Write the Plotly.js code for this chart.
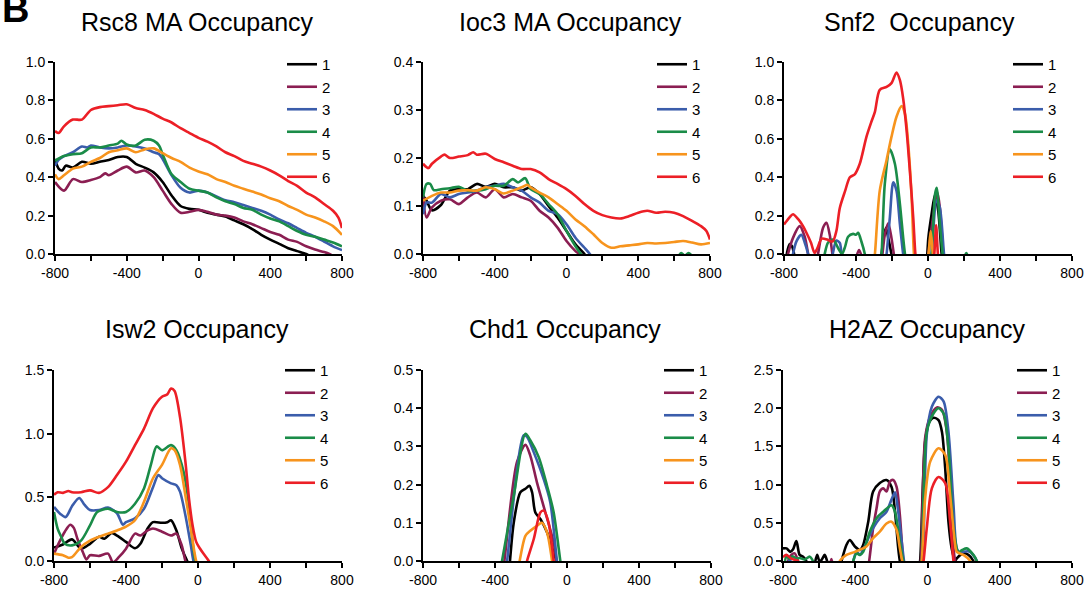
<!DOCTYPE html>
<html><head><meta charset="utf-8">
<script src="https://cdn.plot.ly/plotly-3.0.1.min.js"></script>
<style>html,body{margin:0;padding:0;background:#fff}#chart{width:1090px;height:590px}</style>
</head><body><div id="chart"></div>
<script>
const seriesNames = ['1','2','3','4','5','6'];
const seriesColors = ['#000000','#8b1e52','#3b5dab','#1a8c48','#f7941d','#ec1f26'];
const panelTitles = ['Rsc8 MA Occupancy','Ioc3 MA Occupancy','Snf2\u00a0 Occupancy','Isw2 Occupancy','Chd1 Occupancy','H2AZ Occupancy'];
const xTickVals = [-800,-600,-400,-200,0,200,400,600,800];
const xTickText = ['-800','','-400','','0','','400','','800'];

// ---- Rsc8 MA ----
const rsc8_x1 = [-800,-780,-760,-740,-700,-650,-600,-550,-500,-450,-400,-350,-300,-250,-200,-150,-100,-50,0,50,100,150,200,250,300,350,400,450,500,550,600,620];
const rsc8_y1 = [0.495,0.445,0.435,0.46,0.45,0.48,0.47,0.48,0.49,0.505,0.505,0.47,0.45,0.425,0.375,0.305,0.25,0.235,0.23,0.215,0.205,0.195,0.175,0.155,0.13,0.10,0.075,0.053,0.03,0.015,0.0,-0.01];
const rsc8_x2 = [-800,-750,-700,-650,-600,-550,-520,-500,-450,-400,-350,-300,-250,-200,-150,-100,-50,0,50,100,150,200,250,300,350,400,450,500,550,600,650,700,730,750];
const rsc8_y2 = [0.375,0.33,0.39,0.375,0.385,0.40,0.42,0.41,0.435,0.455,0.425,0.435,0.40,0.33,0.26,0.215,0.22,0.23,0.22,0.205,0.20,0.19,0.17,0.155,0.135,0.115,0.10,0.075,0.063,0.04,0.023,0.01,0.0,-0.01];
const rsc8_x3 = [-800,-780,-750,-700,-650,-620,-600,-550,-500,-450,-400,-350,-300,-250,-220,-200,-150,-100,-50,0,50,100,150,200,250,300,350,400,450,500,550,600,650,700,750,800];
const rsc8_y3 = [0.46,0.49,0.51,0.53,0.56,0.555,0.565,0.555,0.55,0.555,0.565,0.56,0.55,0.53,0.52,0.495,0.41,0.345,0.32,0.33,0.32,0.30,0.28,0.27,0.255,0.24,0.225,0.205,0.18,0.16,0.135,0.11,0.09,0.065,0.04,0.02];
const rsc8_x4 = [-800,-750,-700,-650,-600,-550,-500,-450,-430,-400,-350,-300,-250,-220,-200,-150,-100,-50,0,50,100,150,200,250,300,350,400,450,500,550,600,650,700,750,800];
const rsc8_y4 = [0.485,0.51,0.52,0.525,0.555,0.555,0.565,0.575,0.59,0.57,0.565,0.595,0.59,0.565,0.52,0.415,0.375,0.34,0.33,0.32,0.295,0.275,0.26,0.24,0.23,0.205,0.185,0.17,0.145,0.12,0.10,0.09,0.075,0.06,0.04];
const rsc8_x5 = [-800,-780,-750,-700,-650,-600,-550,-500,-450,-400,-350,-300,-250,-200,-150,-100,-50,0,50,100,150,200,250,300,350,400,450,500,550,600,650,700,750,800];
const rsc8_y5 = [0.415,0.39,0.41,0.445,0.455,0.48,0.50,0.53,0.54,0.55,0.53,0.545,0.55,0.525,0.50,0.48,0.45,0.43,0.415,0.39,0.375,0.355,0.34,0.325,0.31,0.29,0.275,0.25,0.23,0.205,0.19,0.17,0.145,0.10];
const rsc8_x6 = [-800,-780,-750,-700,-650,-600,-550,-500,-450,-400,-350,-300,-250,-200,-150,-100,-50,0,50,100,150,200,250,300,350,400,450,500,550,600,650,700,750,780,800];
const rsc8_y6 = [0.64,0.63,0.665,0.70,0.70,0.75,0.765,0.77,0.775,0.78,0.76,0.75,0.73,0.705,0.685,0.655,0.63,0.605,0.585,0.56,0.53,0.51,0.485,0.47,0.455,0.435,0.41,0.38,0.355,0.32,0.295,0.26,0.225,0.19,0.135];

// ---- Ioc3 MA ----
const ioc3_x1 = [-800,-780,-750,-700,-650,-600,-550,-500,-450,-400,-350,-300,-250,-200,-150,-100,-50,0,50,100,120];
const ioc3_y1 = [0.121,0.111,0.091,0.102,0.132,0.135,0.135,0.146,0.14,0.146,0.139,0.139,0.132,0.139,0.125,0.10,0.076,0.048,0.02,0.0,-0.01];
const ioc3_x2 = [-800,-780,-750,-700,-650,-600,-550,-500,-450,-400,-350,-300,-250,-200,-150,-100,-50,0,50,70,90];
const ioc3_y2 = [0.125,0.076,0.097,0.111,0.114,0.104,0.118,0.128,0.118,0.135,0.118,0.125,0.118,0.111,0.09,0.076,0.055,0.027,0.006,0.0,-0.01];
const ioc3_x3 = [-800,-780,-750,-700,-650,-600,-550,-500,-450,-400,-350,-300,-250,-200,-150,-100,-50,0,50,100,130,150];
const ioc3_y3 = [0.083,0.107,0.107,0.125,0.118,0.125,0.128,0.132,0.139,0.142,0.146,0.139,0.132,0.118,0.107,0.09,0.083,0.062,0.034,0.013,0.0,-0.01];
const ioc3_x4 = [-800,-780,-760,-740,-700,-650,-600,-550,-500,-450,-400,-350,-300,-270,-230,-200,-150,-100,-50,0,50,80,100,600,625,640,660,680,700];
const ioc3_y4 = [0.118,0.146,0.146,0.133,0.135,0.137,0.14,0.132,0.132,0.135,0.142,0.142,0.156,0.149,0.158,0.135,0.125,0.104,0.083,0.048,0.016,0.0,-0.01,null,-0.004,0.002,-0.004,0.002,-0.004];
const ioc3_x5 = [-800,-750,-700,-650,-600,-550,-500,-450,-400,-350,-300,-250,-220,-200,-150,-100,-50,0,50,100,150,200,250,300,350,400,450,500,550,600,650,700,750,800];
const ioc3_y5 = [0.111,0.121,0.128,0.128,0.132,0.133,0.132,0.139,0.135,0.126,0.132,0.139,0.144,0.139,0.128,0.118,0.104,0.09,0.072,0.058,0.041,0.023,0.013,0.016,0.018,0.02,0.023,0.022,0.023,0.025,0.027,0.024,0.02,0.023];
const ioc3_x6 = [-800,-770,-750,-700,-680,-650,-600,-550,-520,-500,-450,-400,-350,-300,-250,-200,-150,-100,-50,0,50,100,150,200,250,300,350,400,450,500,550,600,650,700,750,780,800];
const ioc3_y6 = [0.188,0.179,0.188,0.203,0.207,0.20,0.203,0.206,0.212,0.207,0.209,0.198,0.191,0.184,0.177,0.177,0.17,0.156,0.146,0.135,0.121,0.104,0.09,0.081,0.076,0.074,0.079,0.086,0.09,0.086,0.088,0.086,0.079,0.069,0.058,0.048,0.030];

// ---- Snf2 (null = gap between separate peaks) ----
const snf2_x1 = [-790,-780,-768,-755,-744,-738,-500,-265,-258,-249,-234,-221,-203,-197,-100,-8,-4,2,20,39,57,76,82];
const snf2_y1 = [-0.03,0.02,0.052,0.04,0.0,-0.03,null,-0.03,0.0,0.07,0.137,0.084,0.0,-0.03,null,-0.03,0.0,0.084,0.207,0.31,0.224,0.0,-0.03];
const snf2_x2 = [-785,-778,-750,-713,-685,-666,-660,-640,-618,-611,-583,-564,-546,-531,-525,-450,-400,-383,-366,-300,-258,-253,-240,-221,-203,-190,-185,-100,-3,2,20,52,66,85,90];
const snf2_y2 = [-0.03,0.0,0.084,0.145,0.09,0.0,-0.03,null,-0.03,0.0,0.137,0.163,0.10,0.0,-0.03,null,-0.02,0.02,-0.02,null,-0.03,0.0,0.10,0.16,0.084,0.0,-0.03,null,-0.03,0.0,0.137,0.32,0.24,0.0,-0.03];
const snf2_x3 = [-755,-750,-731,-704,-685,-666,-660,-600,-532,-527,-509,-490,-481,-476,-300,-235,-230,-212,-193,-175,-156,-138,-133,-50,15,20,48,66,89,94];
const snf2_y3 = [-0.03,0.0,0.066,0.10,0.06,0.0,-0.03,null,-0.02,0.01,0.07,0.058,0.0,-0.03,null,-0.03,0.0,0.19,0.373,0.33,0.154,0.0,-0.03,null,-0.03,0.0,0.28,0.24,0.0,-0.03];
const snf2_x4 = [-580,-574,-555,-527,-499,-478,-460,-444,-416,-400,-388,-370,-351,-346,-300,-263,-258,-240,-212,-184,-156,-138,-128,-123,-50,15,20,39,48,66,81,86,150,205,213,221];
const snf2_y4 = [-0.03,0.0,0.06,0.075,0.03,0.0,0.04,0.09,0.105,0.10,0.11,0.065,0.0,-0.03,null,-0.03,0.0,0.365,0.545,0.47,0.26,0.085,0.0,-0.03,null,-0.03,0.0,0.31,0.345,0.154,0.0,-0.03,null,-0.01,0.005,-0.01];
const snf2_x5 = [-300,-295,-268,-230,-203,-175,-147,-128,-110,-91,-78,-73,-40,-2,5,15,25,30];
const snf2_y5 = [-0.03,0.0,0.33,0.49,0.61,0.715,0.77,0.73,0.575,0.295,0.0,-0.03,null,-0.03,0.02,0.12,0.02,-0.03];
const snf2_x6 = [-800,-770,-750,-720,-700,-680,-650,-630,-615,-590,-560,-530,-509,-490,-460,-434,-407,-379,-342,-314,-295,-268,-230,-203,-175,-156,-138,-119,-101,-82,-70,-65,-20,30,35,45,55,60];
const snf2_y6 = [0.154,0.19,0.207,0.18,0.154,0.12,0.058,0.005,0.03,0.08,0.075,0.065,0.12,0.24,0.33,0.40,0.415,0.47,0.61,0.69,0.74,0.855,0.87,0.89,0.945,0.905,0.81,0.645,0.435,0.19,0.0,-0.03,null,-0.03,0.0,0.15,0.0,-0.03];

// ---- Isw2 ----
const isw2_x1 = [-800,-750,-700,-650,-600,-550,-520,-480,-450,-400,-350,-320,-280,-250,-200,-170,-150,-120,-90,-60,-50];
const isw2_y1 = [0.105,0.13,0.17,0.097,0.135,0.19,0.175,0.22,0.20,0.15,0.10,0.135,0.255,0.305,0.30,0.305,0.32,0.24,0.097,0.0,-0.03];
const isw2_x2 = [-800,-770,-740,-710,-690,-670,-640,-620,-600,-550,-500,-472,-440,-400,-350,-320,-280,-250,-200,-150,-120,-90,-70,-60];
const isw2_y2 = [0.058,0.15,0.23,0.285,0.26,0.175,0.07,0.013,0.045,0.04,0.058,-0.01,0.03,0.097,0.215,0.20,0.24,0.255,0.23,0.20,0.215,0.12,0.0,-0.03];
const isw2_x3 = [-800,-765,-735,-700,-660,-630,-600,-550,-500,-450,-417,-400,-350,-300,-250,-220,-200,-150,-120,-100,-70,-40,-25,-15];
const isw2_y3 = [0.425,0.37,0.345,0.43,0.495,0.44,0.40,0.40,0.42,0.375,0.285,0.305,0.335,0.41,0.58,0.675,0.65,0.61,0.595,0.545,0.36,0.125,0.0,-0.03];
const isw2_x4 = [-800,-780,-760,-740,-700,-650,-600,-560,-500,-450,-400,-350,-300,-260,-230,-200,-150,-120,-80,-50,-30,-15,-5];
const isw2_y4 = [0.385,0.255,0.19,0.135,0.123,0.16,0.28,0.385,0.41,0.385,0.385,0.45,0.57,0.765,0.9,0.87,0.91,0.87,0.70,0.44,0.15,0.0,-0.03];
const isw2_x5 = [-800,-750,-720,-700,-650,-600,-550,-500,-450,-400,-350,-300,-250,-200,-150,-130,-100,-70,-40,-20,-10,0];
const isw2_y5 = [0.058,0.045,0.026,0.03,0.11,0.16,0.19,0.215,0.24,0.27,0.32,0.465,0.65,0.755,0.885,0.87,0.755,0.515,0.255,0.07,0.0,-0.03];
const isw2_x6 = [-800,-780,-750,-720,-700,-650,-600,-550,-500,-450,-400,-350,-300,-250,-200,-170,-150,-130,-100,-70,-50,-30,-10,10,30,60,70];
const isw2_y6 = [0.52,0.54,0.535,0.55,0.54,0.54,0.555,0.535,0.58,0.675,0.78,0.91,1.04,1.2,1.29,1.31,1.355,1.335,1.13,0.78,0.49,0.28,0.15,0.10,0.058,0.0,-0.03];

// ---- Chd1 ----
const chd1_x1 = [-320,-315,-296,-259,-231,-209,-194,-176,-148,-111,-74,-59,-55];
const chd1_y1 = [-0.02,0.01,0.10,0.18,0.189,0.197,0.18,0.127,0.11,0.075,0.022,0.0,-0.02];
const chd1_x2 = [-355,-348,-278,-231,-204,-167,-120,-74,-59,-55];
const chd1_y2 = [-0.02,0.0,0.259,0.304,0.276,0.206,0.127,0.048,0.0,-0.02];
const chd1_x3 = [-340,-333,-241,-222,-185,-130,-93,-56,-50];
const chd1_y3 = [-0.02,0.0,0.329,0.325,0.285,0.215,0.154,0.0,-0.02];
const chd1_x4 = [-368,-361,-296,-231,-204,-157,-111,-74,-37,-30];
const chd1_y4 = [-0.02,0.0,0.17,0.333,0.316,0.272,0.197,0.127,0.0,-0.02];
const chd1_x5 = [-270,-263,-231,-204,-167,-139,-111,-83,-78];
const chd1_y5 = [-0.02,0.0,0.066,0.079,0.092,0.10,0.075,0.0,-0.02];
const chd1_x6 = [-230,-222,-185,-148,-130,-102,-74,-68];
const chd1_y6 = [-0.02,0.0,0.057,0.127,0.132,0.10,0.0,-0.02];

// ---- H2AZ (null = gap) ----
const h2az_x1 = [-800,-780,-760,-745,-726,-708,-689,-671,-665,-645,-625,-611,-597,-585,-569,-556,-550,-520,-482,-476,-449,-430,-402,-374,-356,-328,-301,-264,-227,-199,-180,-162,-153,-148,-100,-46,-41,-26,-13,6,33,61,80,98,116,134,153,162,199,227,254,260];
const h2az_y1 = [0.165,0.165,0.12,0.15,0.26,0.08,0.055,0.0,-0.05,null,-0.05,0.08,-0.01,0.02,0.08,0.0,-0.05,null,-0.05,0.0,0.21,0.275,0.19,0.145,0.21,0.515,0.91,1.02,1.06,0.97,0.645,0.165,0.0,-0.05,null,-0.05,0.0,0.95,1.56,1.80,1.875,1.845,1.69,1.215,0.515,0.165,0.0,0.035,0.10,0.08,0.0,-0.05];
const h2az_x2 = [-778,-772,-754,-735,-717,-712,-600,-540,-532,-524,-400,-328,-323,-301,-282,-264,-245,-227,-208,-190,-171,-153,-134,-129,-80,-42,-37,-13,15,52,80,107,125,144,153,158];
const h2az_y2 = [-0.05,0.0,0.08,0.10,0.0,-0.05,null,-0.05,0.025,-0.05,null,-0.05,0.0,0.43,0.69,0.91,0.95,0.91,1.04,1.06,0.97,0.60,0.0,-0.05,null,-0.05,0.0,1.61,1.89,2.01,1.98,1.69,1.04,0.165,0.0,-0.05];
const h2az_x3 = [-770,-763,-755,-600,-416,-411,-393,-374,-356,-301,-264,-227,-200,-180,-165,-145,-130,-125,-80,-31,-26,-4,24,61,89,116,144,162,180,199,236,273,278];
const h2az_y3 = [-0.05,0.05,-0.05,null,-0.05,0.0,0.12,0.08,0.15,0.43,0.56,0.645,0.80,0.90,0.70,0.30,0.0,-0.05,null,-0.05,0.0,1.65,2.02,2.15,2.09,1.69,0.73,0.165,0.10,0.12,0.12,0.0,-0.05];
const h2az_x4 = [-790,-782,-764,-745,-727,-708,-680,-652,-634,-628,-500,-416,-411,-393,-374,-356,-319,-282,-245,-199,-180,-153,-134,-129,-80,-37,-32,-4,33,61,89,116,144,171,190,217,254,273,278];
const h2az_y4 = [-0.05,0.057,0.03,0.06,0.03,0.04,0.02,0.057,0.0,-0.05,null,-0.05,0.0,0.10,0.08,0.12,0.385,0.56,0.645,0.73,0.645,0.25,0.0,-0.05,null,-0.05,0.0,1.69,1.93,2.0,1.93,1.475,0.43,0.12,0.14,0.165,0.08,0.0,-0.05];
const h2az_x5 = [-490,-485,-449,-402,-338,-301,-264,-227,-199,-171,-153,-140,-135,-80,-37,-32,-13,15,61,98,125,153,162,199,236,241];
const h2az_y5 = [-0.05,0.0,0.08,0.12,0.19,0.30,0.385,0.49,0.515,0.405,0.165,0.0,-0.05,null,-0.05,0.0,0.82,1.30,1.475,1.39,0.865,0.21,0.12,0.08,0.0,-0.05];
const h2az_x6 = [-800,-782,-754,-717,-712,-300,-27,-22,-4,24,61,98,125,144,149];
const h2az_y6 = [0.05,0.08,0.03,0.0,-0.05,null,-0.05,0.0,0.43,0.95,1.10,1.02,0.515,0.0,-0.05];

const W = 1090, H = 590;
const fx = p => p / W, fy = p => 1 - p / H;
const FONT = 'Liberation Sans, Arial, Helvetica, sans-serif';

const panels = [
  {xs:[rsc8_x1,rsc8_x2,rsc8_x3,rsc8_x4,rsc8_x5,rsc8_x6], ys:[rsc8_y1,rsc8_y2,rsc8_y3,rsc8_y4,rsc8_y5,rsc8_y6], ymax:1.0, dt:0.2, xd:[55,342], yd:[62,254], tx:197, ty:22, lx:282, ly:48},
  {xs:[ioc3_x1,ioc3_x2,ioc3_x3,ioc3_x4,ioc3_x5,ioc3_x6], ys:[ioc3_y1,ioc3_y2,ioc3_y3,ioc3_y4,ioc3_y5,ioc3_y6], ymax:0.4, dt:0.1, xd:[423,710], yd:[62,254], tx:571, ty:22, lx:652, ly:48},
  {xs:[snf2_x1,snf2_x2,snf2_x3,snf2_x4,snf2_x5,snf2_x6], ys:[snf2_y1,snf2_y2,snf2_y3,snf2_y4,snf2_y5,snf2_y6], ymax:1.0, dt:0.2, xd:[784,1072], yd:[62,254], tx:919, ty:22, lx:1008, ly:48},
  {xs:[isw2_x1,isw2_x2,isw2_x3,isw2_x4,isw2_x5,isw2_x6], ys:[isw2_y1,isw2_y2,isw2_y3,isw2_y4,isw2_y5,isw2_y6], ymax:1.5, dt:0.5, xd:[54,342], yd:[370,561], tx:197, ty:329, lx:280, ly:354},
  {xs:[chd1_x1,chd1_x2,chd1_x3,chd1_x4,chd1_x5,chd1_x6], ys:[chd1_y1,chd1_y2,chd1_y3,chd1_y4,chd1_y5,chd1_y6], ymax:0.5, dt:0.1, xd:[423,711], yd:[370,561], tx:565, ty:329, lx:659, ly:354},
  {xs:[h2az_x1,h2az_x2,h2az_x3,h2az_x4,h2az_x5,h2az_x6], ys:[h2az_y1,h2az_y2,h2az_y3,h2az_y4,h2az_y5,h2az_y6], ymax:2.5, dt:0.5, xd:[783,1072], yd:[370,561], tx:927, ty:329, lx:1012, ly:354}
];

const traces = [];
const layout = {
  width: W, height: H, margin: {l:0, r:0, t:0, b:0},
  paper_bgcolor: '#fff', plot_bgcolor: 'rgba(0,0,0,0)',
  font: {family: FONT, color: '#000'},
  annotations: [], showlegend: true
};

panels.forEach((p, i) => {
  const sfx = i ? String(i + 1) : '';
  const legName = 'legend' + sfx;
  for (let s = 0; s < 6; s++) {
    traces.push({
      x: p.xs[s], y: p.ys[s], name: seriesNames[s], type: 'scatter', mode: 'lines',
      line: {color: seriesColors[s], width: 2.6, shape: 'spline', smoothing: 0.8},
      connectgaps: false, xaxis: 'x' + sfx, yaxis: 'y' + sfx, legend: legName,
      hoverinfo: 'skip'
    });
  }
  const common = {
    showline: true, linewidth: 2, linecolor: '#000', ticks: 'outside', ticklen: 5, tickwidth: 2,
    tickcolor: '#000', showgrid: false, zeroline: false, fixedrange: true,
    tickfont: {family: FONT, size: 14, color: '#000'}
  };
  layout['xaxis' + sfx] = Object.assign({}, common, {
    domain: [fx(p.xd[0]), fx(p.xd[1])], anchor: 'y' + sfx, range: [-800, 800],
    tickmode: 'array', tickvals: xTickVals, ticktext: xTickText
  });
  layout['yaxis' + sfx] = Object.assign({}, common, {
    domain: [fy(p.yd[1]), fy(p.yd[0])], anchor: 'x' + sfx, range: [0, p.ymax],
    tickmode: 'linear', tick0: 0, dtick: p.dt, tickformat: '.1f'
  });
  layout[legName] = {
    x: fx(p.lx), y: fy(p.ly), xanchor: 'left', yanchor: 'top', xref: 'paper', yref: 'paper',
    bgcolor: 'rgba(0,0,0,0)', borderwidth: 0, tracegroupgap: 0,
    font: {family: FONT, size: 15, color: '#000'}
  };
  layout.annotations.push({
    text: panelTitles[i], xref: 'paper', yref: 'paper', x: fx(p.tx), y: fy(p.ty),
    xanchor: 'center', yanchor: 'middle', showarrow: false,
    font: {family: FONT, size: 25, color: '#000'}
  });
});

layout.annotations.push({
  text: '<b>B</b>', xref: 'paper', yref: 'paper', x: 0, y: fy(9), xanchor: 'left', yanchor: 'middle',
  showarrow: false, font: {family: FONT, size: 38, color: '#000'}
});

Plotly.newPlot('chart', traces, layout, {displayModeBar: false, staticPlot: true});
</script>
</body></html>
